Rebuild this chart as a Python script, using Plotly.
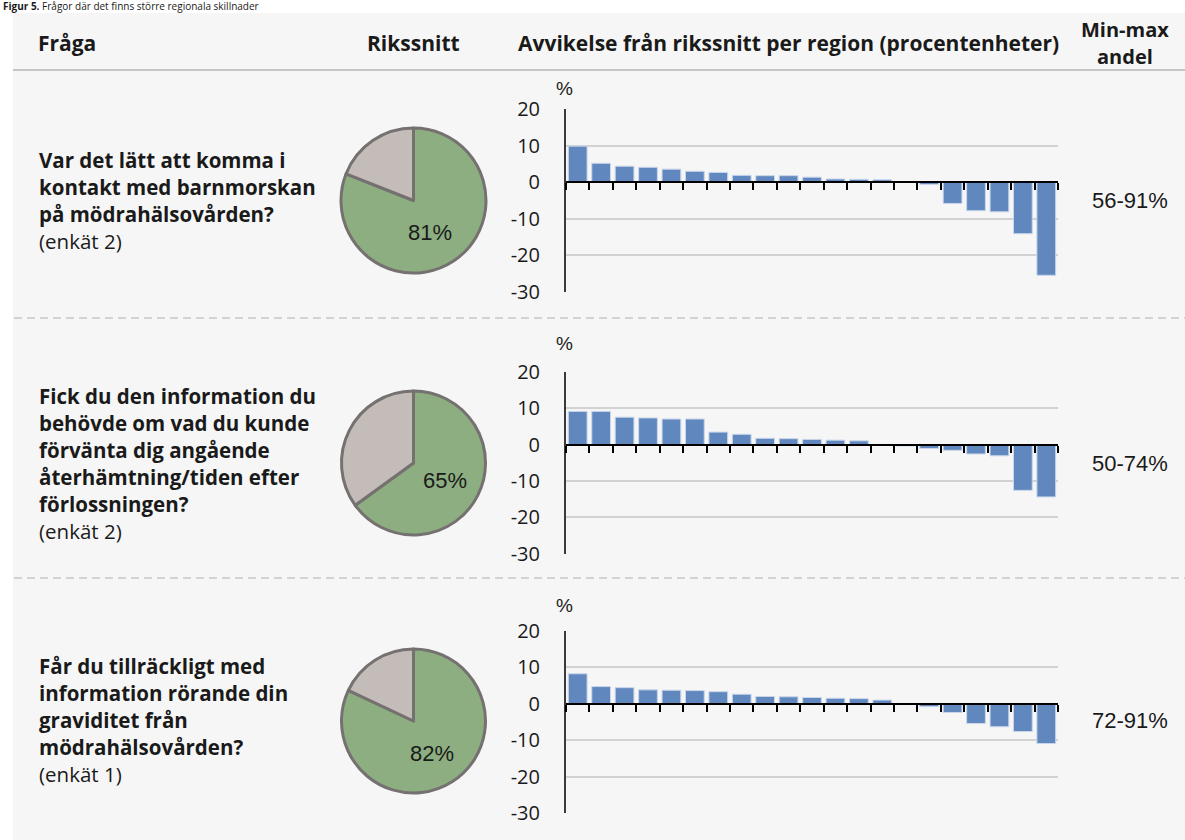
import plotly.graph_objects as go

W, H = 1185, 840

# ---------------- data ----------------
region_rank = list(range(1, 22))  # 21 regions, sorted by deviation

dev_q1 = [9.9, 5.2, 4.4, 4.1, 3.6, 3.0, 2.7, 1.9, 1.8, 1.8, 1.4, 0.9, 0.8, 0.7,
          0.0, -0.6, -5.8, -7.8, -8.1, -14.1, -25.5]
dev_q2 = [9.1, 9.1, 7.5, 7.3, 7.0, 7.0, 3.4, 2.8, 1.7, 1.6, 1.4, 1.2, 1.0, -0.2,
          -0.4, -1.1, -1.6, -2.6, -3.1, -12.6, -14.4]
dev_q3 = [8.2, 4.7, 4.4, 3.8, 3.7, 3.6, 3.3, 2.6, 2.0, 1.9, 1.7, 1.5, 1.4, 1.0,
          0.0, -0.8, -2.4, -5.4, -6.3, -7.6, -10.9]

national_avg = [81, 65, 82]
minmax_labels = ["56-91%", "50-74%", "72-91%"]

question_lines = [
    ["Var det lätt att komma i", "kontakt med barnmorskan", "på mödrahälsovården?"],
    ["Fick du den information du", "behövde om vad du kunde", "förvänta dig angående",
     "återhämtning/tiden efter", "förlossningen?"],
    ["Får du tillräckligt med", "information rörande din", "graviditet från",
     "mödrahälsovården?"],
]
survey_labels = ["(enkät 2)", "(enkät 2)", "(enkät 1)"]

header_labels = ["Fråga", "Rikssnitt",
                 "Avvikelse från rikssnitt per region (procentenheter)",
                 "Min-max", "andel"]
title_bold = "Figur 5."
title_rest = " Frågor där det finns större regionala skillnader"

y_ticks = [20, 10, 0, -10, -20, -30]
y_ticktext = ["20", "10", "0", "-10", "-20", "-30"]

# ---------------- layout helpers ----------------
def px_x(x):
    return x / W

def px_y(y):
    return 1 - y / H

BAR_COLOR = "#6088BF"
GREEN = "#8DAE80"
GREY = "#C4BCB8"
PIE_EDGE = "#767171"
TXT = "#1a1a1a"
FONT = "'Open Sans', Lato, sans-serif"
NUMFONT = "'Liberation Sans', Arial, sans-serif"

rows = [
    dict(top=109.3, bottom=291.7, pie=(128, 273), pct=(430, 232), center=200.5, pctsym=89),
    dict(top=371.7, bottom=553.7, pie=(391, 535), pct=(445, 480), center=463, pctsym=343),
    dict(top=630.7, bottom=813.3, pie=(649, 793), pct=(432, 753), center=720, pctsym=605),
]
devs = [dev_q1, dev_q2, dev_q3]

fig = go.Figure()
annotations = []
shapes = []

shapes.append(dict(type="rect", xref="paper", yref="paper",
                   x0=px_x(13), x1=1.0, y0=0.0, y1=px_y(13),
                   fillcolor="#F6F6F6", line=dict(width=0), layer="below"))
shapes.append(dict(type="line", xref="paper", yref="paper",
                   x0=px_x(13), x1=1.0, y0=px_y(70), y1=px_y(70),
                   line=dict(color="#C6C6C6", width=2), layer="below"))
for yy in (318, 578):
    shapes.append(dict(type="line", xref="paper", yref="paper",
                       x0=px_x(14), x1=1.0, y0=px_y(yy), y1=px_y(yy),
                       line=dict(color="#C8C8C8", width=1.5, dash="8px,5px"),
                       layer="below"))

x_left, x_right = 566, 1058

for i, r in enumerate(rows):
    n = i + 1
    xa = "x" if n == 1 else f"x{n}"
    d0, d1 = px_y(r["bottom"]), px_y(r["top"])
    fig.add_trace(go.Bar(
        x=region_rank, y=devs[i], xaxis=xa, yaxis="y" if n == 1 else f"y{n}",
        marker=dict(color=BAR_COLOR, line=dict(color="#C9D6EA", width=1)),
        showlegend=False, hoverinfo="y"))
    zero_pos = d0 + (0 - (-30)) / 50 * (d1 - d0)
    fig.update_layout(**{
        f"xaxis{'' if n == 1 else n}": dict(
            domain=[px_x(x_left), px_x(x_right)], range=[0.5, 21.5],
            anchor="free", position=zero_pos,
            showline=True, linecolor="#000000", linewidth=2,
            showgrid=False, zeroline=False,
            tickmode="array", tickvals=[k + 0.5 for k in range(0, 22)],
            showticklabels=False, ticks="outside", ticklen=7,
            tickcolor="#000000", tickwidth=1.5, fixedrange=True),
        f"yaxis{'' if n == 1 else n}": dict(
            domain=[d0, d1], range=[-30, 20], anchor=xa,
            tickmode="array", tickvals=y_ticks, ticktext=y_ticktext,
            showline=True, linecolor="#3a3a3a", linewidth=2,
            showgrid=True, gridcolor="#D2D2D2", gridwidth=1.5,
            zeroline=False, ticks="", ticklabelstandoff=20,
            tickfont=dict(family=FONT, size=20, color=TXT), fixedrange=True),
    })
    p0, p1 = r["pie"]
    cx = 413.5
    half = (p1 - p0) / 2
    fig.add_trace(go.Pie(
        values=[national_avg[i], 100 - national_avg[i]],
        labels=["Andel", "Övriga"], sort=False, direction="clockwise",
        rotation=0, textinfo="none", hoverinfo="label+percent",
        marker=dict(colors=[GREEN, GREY], line=dict(color=PIE_EDGE, width=3)),
        domain=dict(x=[px_x(cx - half), px_x(cx + half)], y=[px_y(p1), px_y(p0)]),
        showlegend=False))
    annotations.append(dict(xref="paper", yref="paper",
                            x=px_x(r["pct"][0]), y=px_y(r["pct"][1]),
                            text=f"{national_avg[i]}%", showarrow=False,
                            xanchor="center", yanchor="middle",
                            font=dict(family=NUMFONT, size=22, color=TXT)))
    annotations.append(dict(xref="paper", yref="paper",
                            x=px_x(1130), y=px_y(r["center"]),
                            text=minmax_labels[i], showarrow=False,
                            xanchor="center", yanchor="middle",
                            font=dict(family=NUMFONT, size=22, color=TXT)))
    annotations.append(dict(xref="paper", yref="paper",
                            x=px_x(564), y=px_y(r["pctsym"]),
                            text="%", showarrow=False,
                            xanchor="center", yanchor="middle",
                            font=dict(family=NUMFONT, size=19, color=TXT)))
    lines = question_lines[i] + [survey_labels[i]]
    nl = len(lines)
    for j, line in enumerate(lines):
        yy = r["center"] + (j - (nl - 1) / 2) * 27
        bold = j < nl - 1
        annotations.append(dict(xref="paper", yref="paper",
                                x=px_x(37), y=px_y(yy),
                                text=f"<b>{line}</b>" if bold else line,
                                showarrow=False, xanchor="left", yanchor="middle",
                                font=dict(family=FONT, size=20.5, color=TXT)))

hdr_font = dict(family=FONT, size=21, color=TXT)
hdr = [
    dict(x=px_x(36), y=px_y(43), text=f"<b>{header_labels[0]}</b>", xanchor="left"),
    dict(x=px_x(413), y=px_y(43), text=f"<b>{header_labels[1]}</b>", xanchor="center"),
    dict(x=px_x(788), y=px_y(43), text=f"<b>{header_labels[2]}</b>", xanchor="center"),
    dict(x=px_x(1125), y=px_y(30), text=f"<b>{header_labels[3]}</b>", xanchor="center"),
    dict(x=px_x(1125), y=px_y(57), text=f"<b>{header_labels[4]}</b>", xanchor="center"),
]
for k, a in enumerate(hdr):
    f = dict(hdr_font)
    if k >= 3:
        f["size"] = 20
    a.update(xref="paper", yref="paper", showarrow=False, yanchor="middle", font=f)
annotations += hdr

# figure title: sits in the thin strip above the grey panel
annotations.append(dict(xref="paper", yref="paper", x=px_x(1), y=px_y(6.5),
                        text=f"<b>{title_bold}</b>{title_rest}", showarrow=False,
                        xanchor="left", yanchor="middle",
                        font=dict(family=FONT, size=10, color=TXT)))

fig.update_layout(
    width=W, height=H, margin=dict(l=0, r=0, t=0, b=0, autoexpand=False),
    paper_bgcolor="#FFFFFF", plot_bgcolor="rgba(0,0,0,0)",
    bargap=0.2, shapes=shapes, annotations=annotations,
    font=dict(family=FONT, color=TXT),
)

fig.write_html("out.html", config={"displayModeBar": False},
               post_script="document.body.style.margin='0';document.body.style.overflow='hidden';")
